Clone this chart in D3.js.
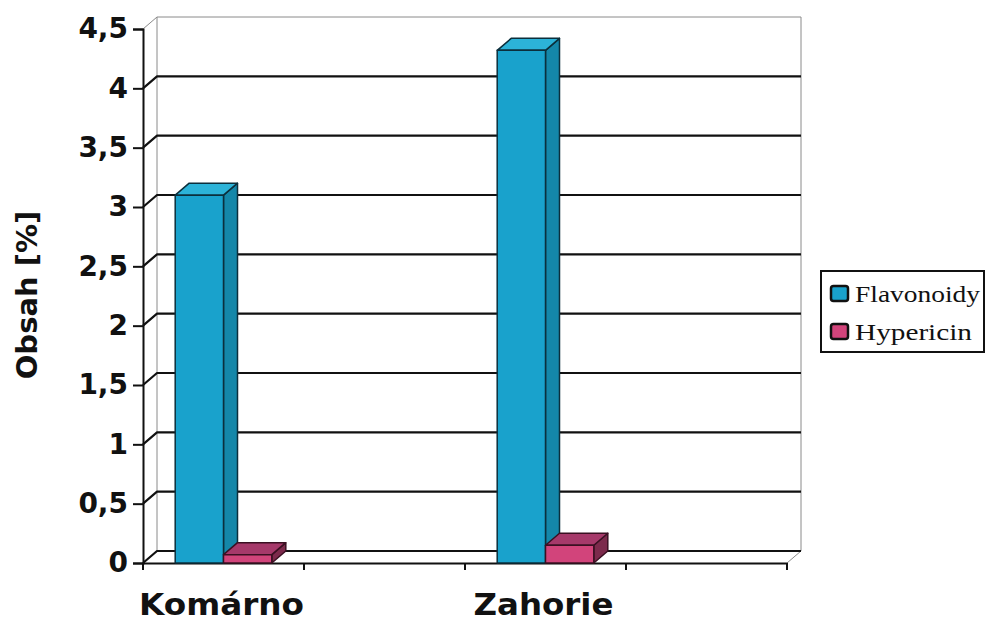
<!DOCTYPE html>
<html>
<head>
<meta charset="utf-8">
<script src="https://cdn.jsdelivr.net/npm/d3@7"></script>
<style>
  html, body { margin: 0; padding: 0; background: #fff; }
  svg { display: block; }
</style>
</head>
<body>
<svg id="chart" width="986" height="622"></svg>
<script>
// Sites (two unnamed slots keep the original column spacing)
const categories = ["Komárno", "", "Zahorie", ""];
const seriesNames = ["Flavonoidy", "Hypericin"];
const flavonoidy = [3.10, null, 4.32, null];
const hypericin = [0.07, null, 0.15, null];
const yTicks = [0, 0.5, 1, 1.5, 2, 2.5, 3, 3.5, 4, 4.5];
const yTickLabels = ["0", "0,5", "1", "1,5", "2", "2,5", "3", "3,5", "4", "4,5"];

const series = [
  { name: seriesNames[0], values: flavonoidy, front: "#19a2cc", side: "#1487a9", top: "#2cb3d8", stroke: "#0b2f3c" },
  { name: seriesNames[1], values: hypericin, front: "#d2447b", side: "#7c2a4c", top: "#a6396a", stroke: "#3a1022" }
];

const svg = d3.select("#chart");
const boldFont = "DejaVu Sans, Arial, sans-serif";

// 3D depth offset of the plot box
const dx = 14, dy = -12;

const idx = d3.range(categories.length);
const x = d3.scaleBand().domain(idx).range([143, 787]).paddingInner(0).paddingOuter(0);
const xs = d3.scaleBand().domain(seriesNames)
  .range([x.bandwidth() * 0.2, x.bandwidth() * 0.8]).padding(0);
const y = d3.scaleLinear().domain([0, 4.5]).range([563, 29]);

const x0 = x.range()[0], x1 = x.range()[1];
const yTop = y(4.5), yBot = y(0);

const g = svg.append("g");

// Back wall and side wall outlines (thin grey)
const wall = g.append("g").attr("fill", "none").attr("stroke", "#8a8a8a").attr("stroke-width", 1);
wall.append("line").attr("x1", x0 + dx).attr("y1", yTop + dy).attr("x2", x0 + dx).attr("y2", yBot + dy);
wall.append("line").attr("x1", x1 + dx).attr("y1", yTop + dy).attr("x2", x1 + dx).attr("y2", yBot + dy);
wall.append("line").attr("x1", x0 + dx).attr("y1", yTop + dy).attr("x2", x1 + dx).attr("y2", yTop + dy);
wall.append("line").attr("x1", x0).attr("y1", yTop).attr("x2", x0 + dx).attr("y2", yTop + dy);
wall.append("line").attr("x1", x1).attr("y1", yBot).attr("x2", x1 + dx).attr("y2", yBot + dy);

// Gridlines: diagonal on the side wall, then across the back wall
const grid = g.append("g").attr("stroke", "#111").attr("stroke-width", 2.2).attr("fill", "none");
yTicks.filter(v => v < 4.5).forEach(v => {
  grid.append("path")
    .attr("d", `M${x0},${y(v)} L${x0 + dx},${y(v) + dy} L${x1 + dx},${y(v) + dy}`)
    .attr("stroke-linejoin", "round");
});

// Front floor edge (category axis)
const xAxis = d3.axisBottom(x).tickSize(0).tickFormat("");
g.append("g").attr("transform", `translate(0,${yBot})`).call(xAxis)
  .call(a => a.select(".domain").attr("stroke", "#111").attr("stroke-width", 2));
// Category boundary ticks
const xBounds = idx.map(i => x(i)).concat([x1]);
g.append("g").selectAll("line").data(xBounds).join("line")
  .attr("x1", d => d).attr("x2", d => d)
  .attr("y1", yBot).attr("y2", yBot + 7)
  .attr("stroke", "#111").attr("stroke-width", 2);
// Category labels
const labelWidths = { "Komárno": 165, "Zahorie": 140 };
g.append("g").selectAll("text").data(idx.filter(i => categories[i] !== "")).join("text")
  .attr("x", i => x(i) + x.bandwidth() / 2 - 2)
  .attr("y", 615)
  .attr("text-anchor", "middle")
  .attr("font-family", boldFont)
  .attr("font-weight", "bold")
  .attr("font-size", 30)
  .attr("fill", "#111")
  .attr("textLength", i => labelWidths[categories[i]])
  .attr("lengthAdjust", "spacingAndGlyphs")
  .text(i => categories[i]);

// Value axis
const yAxis = d3.axisLeft(y).tickValues(yTicks).tickSize(10).tickPadding(5)
  .tickFormat((d, i) => yTickLabels[i]);
const ya = g.append("g").attr("transform", `translate(${x0},0)`).call(yAxis);
ya.select(".domain").attr("stroke", "#111").attr("stroke-width", 2);
ya.selectAll(".tick line").attr("stroke", "#111").attr("stroke-width", 2);
ya.selectAll(".tick text")
  .attr("font-family", boldFont)
  .attr("font-weight", "bold")
  .attr("font-size", 28)
  .attr("fill", "#111");

// Axis title
svg.append("text")
  .attr("transform", "translate(37,295) rotate(-90)")
  .attr("text-anchor", "middle")
  .attr("font-family", boldFont)
  .attr("font-weight", "bold")
  .attr("font-size", 29)
  .attr("fill", "#111")
  .text("Obsah [%]");

// 3D columns: front, side and top faces
const bars = g.append("g");
idx.forEach(ci => {
  series.forEach(s => {
    const v = s.values[ci];
    if (v == null) return;
    const bx0 = x(ci) + xs(s.name);
    const bx1 = bx0 + xs.bandwidth();
    const by = y(v), b0 = y(0);
    const bg = bars.append("g").attr("stroke", s.stroke).attr("stroke-width", 1.5).attr("stroke-linejoin", "round");
    bg.append("path").attr("fill", s.side)
      .attr("d", `M${bx1},${b0} L${bx1 + dx},${b0 + dy} L${bx1 + dx},${by + dy} L${bx1},${by} Z`);
    bg.append("path").attr("fill", s.top)
      .attr("d", `M${bx0},${by} L${bx0 + dx},${by + dy} L${bx1 + dx},${by + dy} L${bx1},${by} Z`);
    bg.append("rect").attr("fill", s.front)
      .attr("x", bx0).attr("y", by).attr("width", bx1 - bx0).attr("height", b0 - by);
  });
});

// Legend
const legendWidths = [125, 117];
const lg = svg.append("g");
lg.append("rect").attr("x", 821).attr("y", 271).attr("width", 163).attr("height", 81)
  .attr("fill", "#fff").attr("stroke", "#111").attr("stroke-width", 2);
series.forEach((s, i) => {
  const base = 302 + i * 38;
  lg.append("rect").attr("x", 831).attr("y", base - 16).attr("width", 17).attr("height", 15)
    .attr("rx", 2.5).attr("fill", s.front).attr("stroke", "#111").attr("stroke-width", 2.5);
  lg.append("text").attr("x", 855).attr("y", base)
    .attr("font-family", "'Liberation Serif', 'Times New Roman', serif")
    .attr("font-size", 23).attr("fill", "#111")
    .attr("textLength", legendWidths[i])
    .attr("lengthAdjust", "spacingAndGlyphs")
    .text(s.name);
});
</script>
</body>
</html>
